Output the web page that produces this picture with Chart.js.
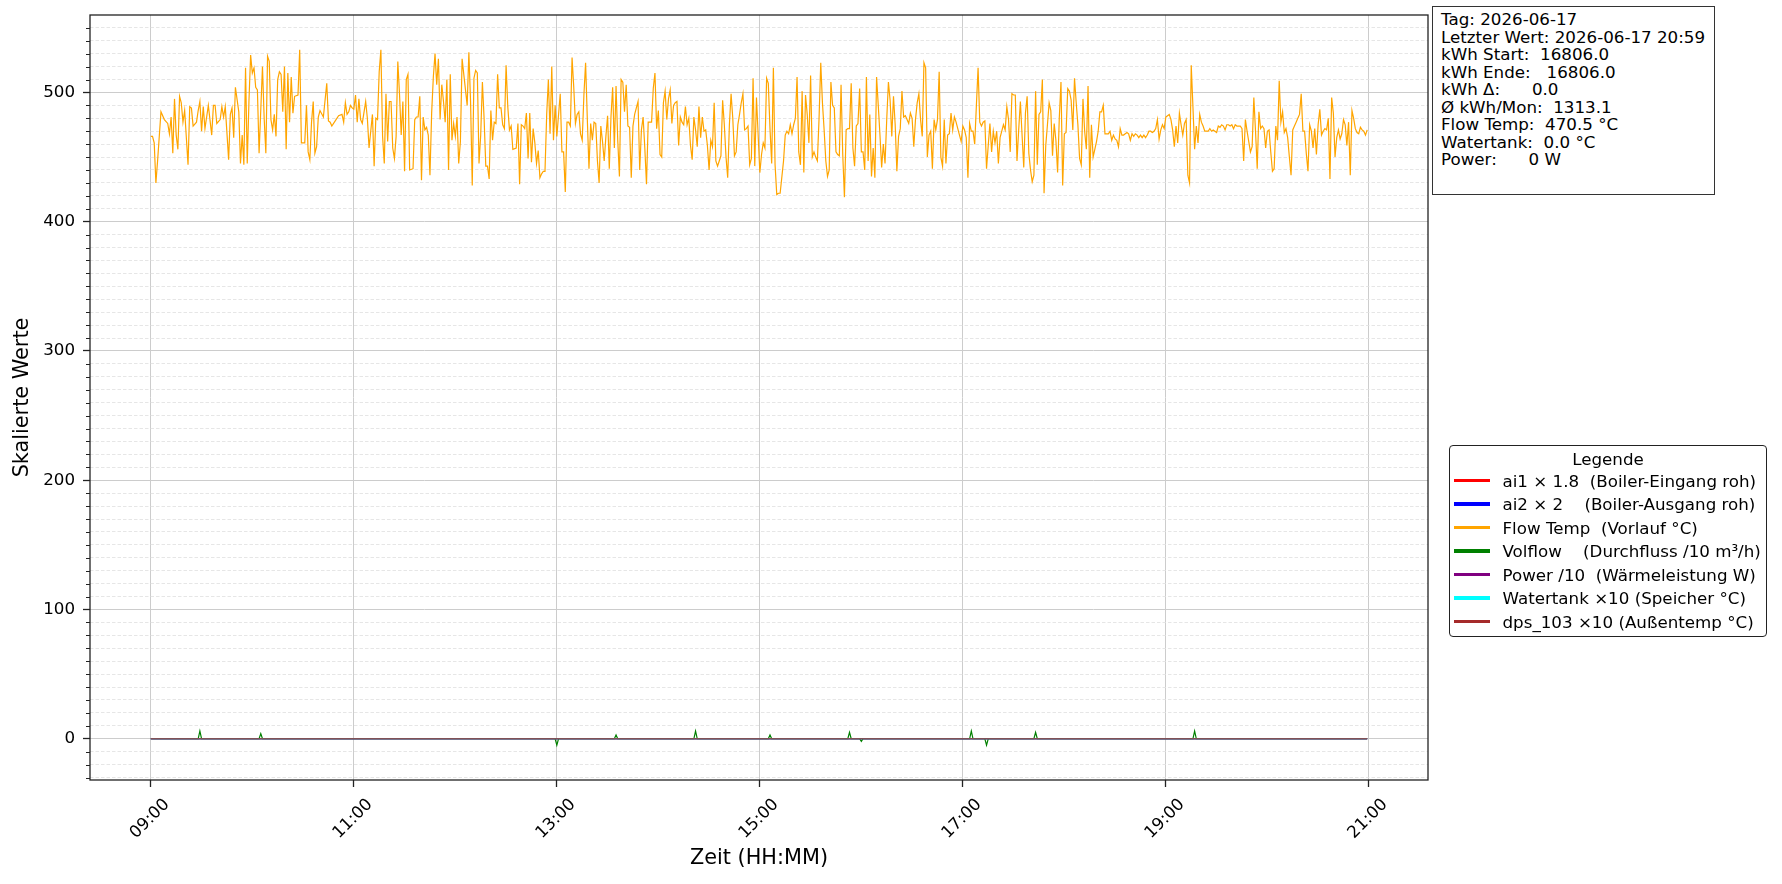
<!DOCTYPE html>
<html>
<head>
<meta charset="utf-8">
<script src="https://cdn.jsdelivr.net/npm/chart.js@4.4.1/dist/chart.umd.min.js"></script>
<style>
  body { margin: 0; background: #fff; }
  #wrap { position: relative; width: 1782px; height: 884px; font-family: "DejaVu Sans"; color: #000; }
  #info {
    position: absolute; left: 1432px; top: 6px; width: 283px; height: 189px;
    box-sizing: border-box; border: 1.6px solid #333; background: #fff;
    padding: 4.4px 0 0 8px; font-size: 16.7px; line-height: 17.5px; white-space: pre;
  }
  #legend {
    position: absolute; left: 1449px; top: 445px; width: 318px; height: 192px;
    box-sizing: border-box; border: 1.4px solid #222; border-radius: 4px; background: #fff;
    font-size: 16.7px;
  }
  #legend .ttl { position: absolute; left: 0; right: 0; top: 1.5px; height: 23.5px; line-height: 23.5px; text-align: center; }
  #legend .row { position: absolute; left: 0; right: 0; height: 23.5px; line-height: 23.5px; white-space: pre; }
  #legend .hl { position: absolute; left: 4px; top: 9px; width: 36px; height: 3.4px; }
  #legend .tx { position: absolute; left: 52.5px; top: 0; }
</style>
</head>
<body>
<div id="wrap">
  <canvas id="chart" width="1782" height="884"></canvas>
  <div id="info"></div>
  <div id="legend"><div class="ttl">Legende</div></div>
</div>
<script>
// Minuten ab 09:00, ein Wert pro Minute (null = kein Messpunkt)
const startMinute = 540;
const flowTemp = [
  466,466,461,430,447,null,485,null,479,null,476,468,481,453,495,467,456,497,492,477,
  486,null,444,489,488,474,null,477,486,493,470,489,472,null,490,null,467,490,490,476,
  null,479,489,481,489,null,448,483,488,465,504,null,485,445,467,444,519,445,493,529,
  515,519,504,502,453,null,520,480,453,528,524,479,471,483,466,510,516,514,485,520,
  456,515,477,512,484,497,null,498,533,461,461,461,490,454,448,477,493,453,458,481,
  486,null,481,null,507,478,477,474,null,478,null,482,null,483,477,492,483,485,490,488,
  487,498,477,495,479,476,null,493,480,457,null,483,443,480,479,516,533,466,445,499,
  462,493,493,457,449,466,524,499,467,493,439,510,514,440,null,441,479,481,481,497,
  432,481,471,473,467,436,484,512,530,506,526,479,506,493,477,510,440,514,463,476,
  466,481,445,462,526,514,502,490,531,493,428,511,517,515,445,467,508,480,443,443,
  433,486,463,477,476,514,488,488,475,472,521,489,471,474,456,null,457,476,429,475,
  474,472,484,449,484,446,472,461,445,455,434,437,439,439,483,510,468,520,463,490,
  466,null,499,454,454,423,477,477,474,527,504,476,483,485,468,463,498,523,480,441,
  476,463,477,476,447,430,474,462,447,466,482,441,481,504,457,505,463,435,510,508,
  485,506,474,473,434,474,483,488,493,440,471,481,457,429,477,477,477,503,515,472,
  486,452,450,492,501,479,495,502,476,490,492,493,459,481,477,475,489,475,480,459,
  448,481,471,458,489,465,481,470,471,459,440,463,458,492,447,443,447,451,494,475,
  450,434,475,499,480,451,454,475,483,492,499,471,472,474,444,449,511,443,496,467,
  438,452,461,457,511,507,472,445,519,444,421,422,422,null,447,467,470,468,475,468,
  475,480,512,454,444,501,438,498,483,461,513,450,454,450,447,480,523,492,471,447,
  435,440,508,490,488,454,452,451,506,452,419,471,472,472,507,457,443,474,476,503,
  454,454,440,512,447,483,435,457,434,512,490,467,442,460,445,479,508,494,466,497,
  475,439,466,472,501,481,482,479,476,484,480,458,479,492,499,479,466,523,519,450,
  467,470,441,479,471,479,516,450,443,479,445,467,468,484,471,481,477,472,467,462,
  474,471,465,434,476,470,470,460,490,519,477,474,477,478,441,459,476,454,470,461,
  470,445,465,470,475,471,489,479,454,499,498,498,447,471,493,467,442,484,497,453,
  440,431,436,501,444,483,485,510,422,459,475,492,486,451,476,463,438,480,508,428,
  468,469,503,501,494,471,511,492,475,449,444,495,470,456,505,434,475,450,456,462,
  470,485,485,490,468,468,468,470,463,467,464,463,458,472,467,467,468,469,468,463,
  468,466,468,467,465,467,465,467,465,467,470,470,469,470,472,479,464,471,475,472,
  481,482,483,479,471,458,474,461,484,475,467,476,479,436,430,521,489,456,474,461,
  483,477,474,470,470,470,472,470,471,470,469,474,473,475,474,471,475,475,474,475,
  472,475,474,474,474,472,447,479,470,462,454,458,496,470,441,485,472,474,472,457,
  470,471,454,439,441,474,463,509,477,485,469,472,465,450,436,471,474,477,480,483,
  499,470,470,453,439,475,470,457,472,452,475,487,467,470,472,471,480,433,496,484,
  450,465,471,464,468,479,475,459,477,436,486,480,472,469,468,473,471,470,467,471
];

// Volflow: meist 0, einzelne Ausschläge
const volflowMin = [0, 28,29,30, 64,65,66, 239,240,241, 274,275,276, 321,322,323, 365,366,367,
  412,413,414, 419,420,421, 484,485,486, 493,494,495, 522,523,524, 616,617,618, 719];
const volflowVal = [0, 0,6,0, 0,4,0, 0,-5,0, 0,3,0, 0,6,0, 0,3,0,
  0,5,0, 0,-2,0, 0,6,0, 0,-5,0, 0,5,0, 0,6,0, 0];

// konstante Reihen (alle 0)
const zeroMin = [0, 719];
const ai1Scaled = [0, 0];
const ai2Scaled = [0, 0];
const powerScaled = [0, 0];
const watertankScaled = [0, 0];
const dps103Scaled = [0, 0];

const seriesLabels = [
  'ai1 × 1.8  (Boiler-Eingang roh)',
  'ai2 × 2    (Boiler-Ausgang roh)',
  'Flow Temp  (Vorlauf °C)',
  'Volflow    (Durchfluss /10 m³/h)',
  'Power /10  (Wärmeleistung W)',
  'Watertank ×10 (Speicher °C)',
  'dps_103 ×10 (Außentemp °C)'
];
const seriesColors = ['#ff0000', '#0000ff', '#ffa500', '#008000', '#800080', '#00ffff', '#a52a2a'];

const xTicks = [540, 660, 780, 900, 1020, 1140, 1260];
const xTickLabels = ['09:00', '11:00', '13:00', '15:00', '17:00', '19:00', '21:00'];

const infoLines = [
  'Tag: 2026-06-17',
  'Letzter Wert: 2026-06-17 20:59',
  'kWh Start:  16806.0',
  'kWh Ende:   16806.0',
  'kWh Δ:      0.0',
  'Ø kWh/Mon:  1313.1',
  'Flow Temp:  470.5 °C',
  'Watertank:  0.0 °C',
  'Power:      0 W'
];

function pairs(mins, vals) {
  return mins.map((m, i) => ({ x: startMinute + m, y: vals[i] }));
}

const seriesData = [
  pairs(zeroMin, ai1Scaled),
  pairs(zeroMin, ai2Scaled),
  flowTemp.map((v, i) => ({ x: startMinute + i, y: v })),
  pairs(volflowMin, volflowVal),
  pairs(zeroMin, powerScaled),
  pairs(zeroMin, watertankScaled),
  pairs(zeroMin, dps103Scaled)
];

const FONT = '"DejaVu Sans"';
Chart.defaults.font.family = FONT;
Chart.defaults.color = '#000';

const framePlugin = {
  id: 'frame',
  afterDraw(chart) {
    const { ctx, chartArea: a, scales: { x, y } } = chart;
    ctx.save();
    // kleine Ticks an der y-Achse
    ctx.strokeStyle = '#222';
    ctx.lineWidth = 1;
    y.ticks.forEach(t => {
      if (t.value % 100 !== 0) {
        const py = Math.round(y.getPixelForValue(t.value)) + 0.5;
        ctx.beginPath();
        ctx.moveTo(a.left - 4, py);
        ctx.lineTo(a.left, py);
        ctx.stroke();
      }
    });
    // Rahmen
    ctx.lineWidth = 1.3;
    ctx.strokeStyle = '#222';
    ctx.strokeRect(a.left, a.top, a.right - a.left, a.bottom - a.top);
    // gedrehte Zeitlabels
    ctx.font = '16.7px ' + FONT;
    ctx.fillStyle = '#000';
    ctx.textAlign = 'center';
    ctx.textBaseline = 'middle';
    x.ticks.forEach((t, i) => {
      const px = x.getPixelForValue(t.value);
      ctx.save();
      ctx.translate(px - 1, a.bottom + 39);
      ctx.rotate(-Math.PI / 4);
      ctx.fillText(xTickLabels[i], 0, 0);
      ctx.restore();
    });
    ctx.restore();
  }
};

const isMajor = c => c.tick && c.tick.value % 100 === 0;

new Chart(document.getElementById('chart'), {
  type: 'line',
  data: {
    datasets: seriesLabels.map((lab, k) => ({
      label: lab,
      data: seriesData[k],
      borderColor: seriesColors[k],
      backgroundColor: seriesColors[k],
      borderWidth: 1.2,
      pointRadius: 0,
      tension: 0,
      spanGaps: true,
      fill: false,
      order: 10 - k
    }))
  },
  options: {
    responsive: false,
    animation: false,
    devicePixelRatio: 1,
    layout: { padding: { top: 15, right: 354, bottom: 0, left: 0 } },
    plugins: { legend: { display: false }, tooltip: { enabled: false } },
    scales: {
      x: {
        type: 'linear',
        min: 504.05,
        max: 1294.95,
        afterBuildTicks: s => { s.ticks = xTicks.map(v => ({ value: v })); },
        afterFit: s => { s.height = 104; s.paddingLeft = 0; s.paddingRight = 0; },
        ticks: { display: false },
        grid: { color: '#cccccc', lineWidth: 1, tickLength: 7, tickColor: '#222', tickWidth: 1.3 },
        border: { display: false },
        title: { display: true, text: 'Zeit (HH:MM)', font: { size: 20.8 }, padding: { top: 0, bottom: 13 } }
      },
      y: {
        type: 'linear',
        min: -31.9,
        max: 559.9,
        afterFit: s => { s.width = 90; s.paddingTop = 0; s.paddingBottom = 0; },
        ticks: {
          stepSize: 10,
          includeBounds: false,
          autoSkip: false,
          padding: 8,
          font: { size: 16.7 },
          callback: v => (v % 100 === 0 ? String(v) : '')
        },
        grid: {
          color: c => (isMajor(c) ? '#cccccc' : '#e0e0e0'),
          lineWidth: c => (isMajor(c) ? 1 : 0.8),
          tickLength: 7,
          tickColor: c => (isMajor(c) ? '#222' : 'rgba(0,0,0,0)'),
          tickWidth: 1.3
        },
        border: { display: false, dash: c => (c.tick && !isMajor(c) ? [3.5, 2] : []) },
        title: { display: true, text: 'Skalierte Werte', font: { size: 20.8 }, padding: { top: 10, bottom: 0 } }
      }
    }
  },
  plugins: [framePlugin]
});

document.getElementById('info').textContent = infoLines.join('\n');

const legendEl = document.getElementById('legend');
seriesLabels.forEach((lab, k) => {
  const row = document.createElement('div');
  row.className = 'row';
  row.style.top = (23.65 + 23.5 * k) + 'px';
  const hl = document.createElement('span');
  hl.className = 'hl';
  hl.style.background = seriesColors[k];
  const tx = document.createElement('span');
  tx.className = 'tx';
  tx.textContent = lab;
  row.appendChild(hl);
  row.appendChild(tx);
  legendEl.appendChild(row);
});
</script>
</body>
</html>
